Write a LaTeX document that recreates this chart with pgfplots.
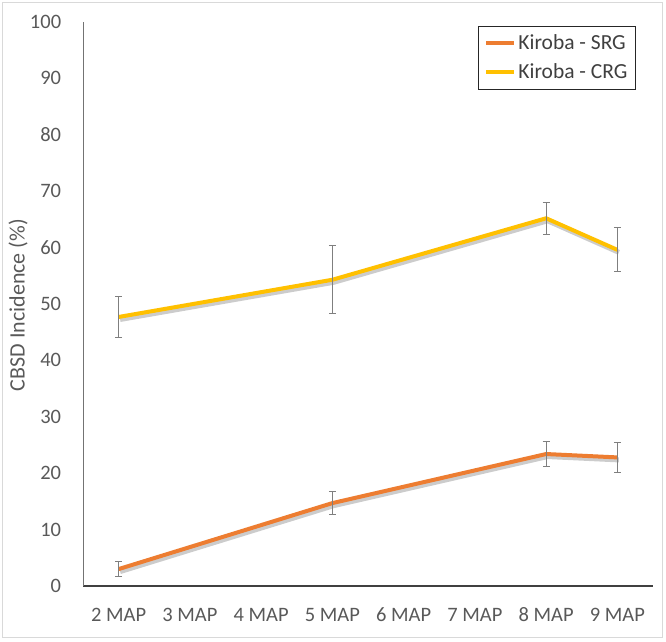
\documentclass[border=0pt]{standalone}
\usepackage{pgfplots}
\pgfplotsset{compat=1.18}
\usepackage{fontspec}
\setmainfont{Carlito}
\definecolor{srg}{HTML}{ED7D31}
\definecolor{crg}{HTML}{FFC000}
\definecolor{txt}{HTML}{595959}
\definecolor{errc}{HTML}{7F7F7F}
\begin{document}
\fontsize{20pt}{24pt}\selectfont
\begin{tikzpicture}
\path (0pt,0pt) rectangle (666pt,641pt);
\draw[draw=black!15, line width=0.8pt] (2pt,4pt) rectangle (662pt,639pt);
\begin{axis}[
  at={(83pt,55pt)}, anchor=south west,
  scale only axis, width=570pt, height=564pt,
  xmin=-0.5, xmax=7.5, ymin=0, ymax=100,
  xtick={0,...,7},
  xticklabels={2 MAP,3 MAP,4 MAP,5 MAP,6 MAP,7 MAP,8 MAP,9 MAP},
  ytick={0,10,...,100},
  axis x line*=bottom, axis y line*=left,
  x axis line style={-, draw=black!75, line width=1.2pt},
  y axis line style={-, draw=black!55, line width=1pt},
  major tick length=0pt,
  /pgf/number format/assume math mode=true,
  tick label style={font=\fontsize{20.5pt}{24pt}\selectfont, text=txt},
  yticklabel style={xshift=-15pt},
  xticklabel style={yshift=-15pt},
  ylabel={CBSD Incidence (\%)},
  every axis y label/.style={at={(axis description cs:0,0.498)}, xshift=-65pt, rotate=90, anchor=center, font=\fontsize{22pt}{26pt}\selectfont, text=txt},
  legend style={at={(0.693,0.993)}, anchor=north west, draw=black!85, line width=0.8pt,
    font=\fontsize{21.5pt}{24pt}\selectfont, text=black!75, inner xsep=6pt, inner ysep=6pt,
    row sep=7pt, legend cell align=left},
  legend image code/.code={\draw[#1, line width=4pt] (0pt,0pt) -- (28pt,0pt);},
  clip=false,
]
% shadows
\addplot[forget plot, draw=black, opacity=0.2, line width=5pt, xshift=1.5pt, yshift=-2.5pt] coordinates {(0,3.0) (3,14.7) (6,23.4) (7,22.8)};
\addplot[forget plot, draw=black, opacity=0.2, line width=5pt, xshift=1.5pt, yshift=-2.5pt] coordinates {(0,47.7) (3,54.3) (6,65.2) (7,59.6)};
% SRG
\addplot[forget plot, draw=srg, line width=4pt, line join=round, mark=none,
  error bars/.cd, y dir=both, y explicit,
  error bar style={draw=errc, line width=1pt, solid},
  error mark options={rotate=90, mark size=3.5pt, draw=errc, line width=1pt}]
  coordinates {(0,3.0) +- (0,1.4) (3,14.7) +- (0,2.0) (6,23.4) +- (0,2.2) (7,22.8) +- (0,2.7)};
% CRG
\addplot[forget plot, draw=crg, line width=4pt, line join=round, mark=none,
  error bars/.cd, y dir=both, y explicit,
  error bar style={draw=errc, line width=1pt, solid},
  error mark options={rotate=90, mark size=3.5pt, draw=errc, line width=1pt}]
  coordinates {(0,47.7) +- (0,3.7) (3,54.3) +- (0,6.05) (6,65.2) +- (0,2.85) (7,59.6) +- (0,3.9)};
\addlegendimage{draw=srg}
\addlegendentry{Kiroba - SRG}
\addlegendimage{draw=crg}
\addlegendentry{Kiroba - CRG}
\end{axis}
\end{tikzpicture}
\end{document}
